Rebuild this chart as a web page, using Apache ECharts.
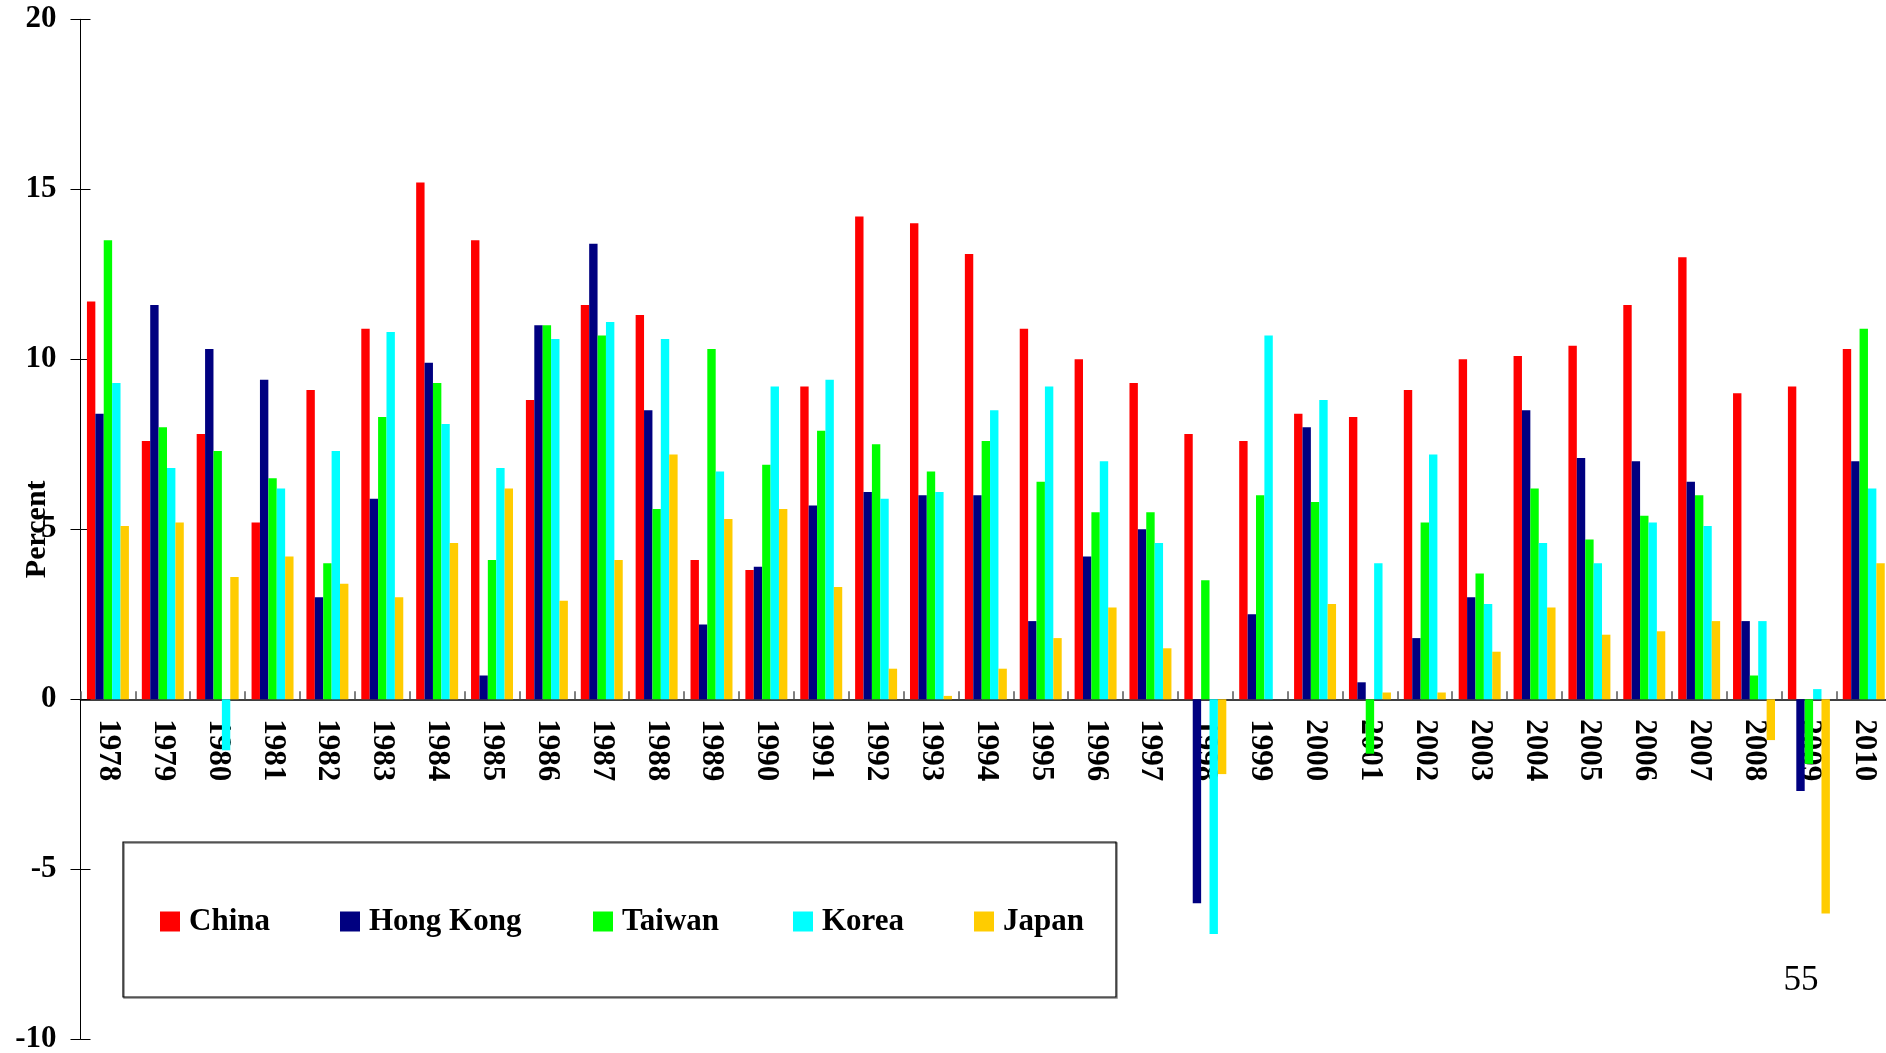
<!DOCTYPE html>
<html>
<head>
<meta charset="utf-8">
<script src="https://cdn.jsdelivr.net/npm/echarts@6/dist/echarts.min.js"></script>
<style>
html,body{margin:0;padding:0;background:#fff;}
#chart{width:1886px;height:1053px;}
</style>
</head>
<body>
<div id="chart"></div>
<script>
const years = ['1978','1979','1980','1981','1982','1983','1984','1985','1986','1987','1988','1989','1990','1991','1992','1993','1994','1995','1996','1997','1998','1999','2000','2001','2002','2003','2004','2005','2006','2007','2008','2009','2010'];
const seriesNames = ['China','Hong Kong','Taiwan','Korea','Japan'];
const china = [11.7,7.6,7.8,5.2,9.1,10.9,15.2,13.5,8.8,11.6,11.3,4.1,3.8,9.2,14.2,14.0,13.1,10.9,10.0,9.3,7.8,7.6,8.4,8.3,9.1,10.0,10.1,10.4,11.6,13.0,9.0,9.2,10.3];
const hongKong = [8.4,11.6,10.3,9.4,3.0,5.9,9.9,0.7,11.0,13.4,8.5,2.2,3.9,5.7,6.1,6.0,6.0,2.3,4.2,5.0,-6.0,2.5,8.0,0.5,1.8,3.0,8.5,7.1,7.0,6.4,2.3,-2.7,7.0];
const taiwan = [13.5,8.0,7.3,6.5,4.0,8.3,9.3,4.1,11.0,10.7,5.6,10.3,6.9,7.9,7.5,6.7,7.6,6.4,5.5,5.5,3.5,6.0,5.8,-1.6,5.2,3.7,6.2,4.7,5.4,6.0,0.7,-1.9,10.9];
const korea = [9.3,6.8,-1.5,6.2,7.3,10.8,8.1,6.8,10.6,11.1,10.6,6.7,9.2,9.4,5.9,6.1,8.5,9.2,7.0,4.6,-6.9,10.7,8.8,4.0,7.2,2.8,4.6,4.0,5.2,5.1,2.3,0.3,6.2];
const japan = [5.1,5.2,3.6,4.2,3.4,3.0,4.6,6.2,2.9,4.1,7.2,5.3,5.6,3.3,0.9,0.1,0.9,1.8,2.7,1.5,-2.2,0,2.8,0.2,0.2,1.4,2.7,1.9,2.0,2.3,-1.2,-6.3,4.0];
const yTicks = {min:-10, max:20, interval:5};
const colors = ['#FF0000','#000080','#00FF00','#00FFFF','#FFCC00'];
const seriesData = [china, hongKong, taiwan, korea, japan];
const legendLefts = [160, 340, 593, 793, 974];
const pageNumber = '55';

const SERIF = '"Liberation Serif","Times New Roman",serif';
const GRID_H = 1020;
const zeroOffset = -GRID_H * (0 - yTicks.min) / (yTicks.max - yTicks.min);
const chart = echarts.init(document.getElementById('chart'), null, {renderer:'canvas'});
const option = {
  animation:false,
  backgroundColor:'#fff',
  grid:{left:80.5, top:19.3, width:1810.7, height:GRID_H, containLabel:false, outerBoundsMode:'none'},
  xAxis:{
    type:'category', data:years, boundaryGap:true, position:'bottom', offset:zeroOffset,
    axisLine:{onZero:false, lineStyle:{color:'#000', width:1.5}},
    axisTick:{show:true, inside:true, length:8, interval:0, lineStyle:{color:'#555', width:1.5}},
    axisLabel:{interval:0, rotate:-90, margin:20, fontFamily:SERIF, fontWeight:'bold', fontSize:31, color:'#000', hideOverlap:false},
    splitLine:{show:false}
  },
  yAxis:[{
    type:'value', min:yTicks.min, max:yTicks.max, interval:yTicks.interval, position:'left',
    axisLine:{show:true, lineStyle:{color:'#000', width:1}},
    axisTick:{show:true, length:10, lineStyle:{color:'#000', width:1}},
    splitLine:{show:false},
    axisLabel:{fontFamily:SERIF, fontWeight:'bold', fontSize:31, color:'#000', margin:24},
    name:'Percent', nameLocation:'middle', nameRotate:90, nameGap:28, nameMoveOverlap:false,
    nameTextStyle:{fontFamily:SERIF, fontWeight:'bold', fontSize:30, color:'#000'}
  },{
    type:'value', min:yTicks.min, max:yTicks.max, interval:yTicks.interval, position:'left', offset:0,
    axisLine:{show:false},
    axisTick:{show:true, inside:true, length:10, lineStyle:{color:'#000', width:1}},
    axisLabel:{show:false}, splitLine:{show:false}
  }],
  legend: seriesNames.map((n,i)=>({
    data:[n], left:legendLefts[i], top:906, padding:0,
    icon:'rect', itemWidth:20, itemHeight:20,
    textStyle:{fontFamily:SERIF, fontWeight:'bold', fontSize:31, color:'#000', lineHeight:30, padding:[0,0,0,4]}
  })),
  series: seriesNames.map((n,i)=>({
    name:n, type:'bar', data:seriesData[i], yAxisIndex:0,
    barGap:'0%', barCategoryGap:'23.5%',
    itemStyle:{color:colors[i]}
  })),
  graphic:[
    {type:'rect', z:0, shape:{x:124, y:843, width:993, height:155}, style:{fill:'none', stroke:'#888', lineWidth:1.5}},
    {type:'rect', z:1, shape:{x:123, y:842, width:993, height:155}, style:{fill:'none', stroke:'#000', lineWidth:1.2}},
    {type:'text', z:5, x:1801, y:981, style:{text:pageNumber, fontFamily:SERIF, fontSize:35, fill:'#000', textAlign:'center', textVerticalAlign:'middle'}}
  ]
};
chart.setOption(option);
</script>
</body>
</html>
